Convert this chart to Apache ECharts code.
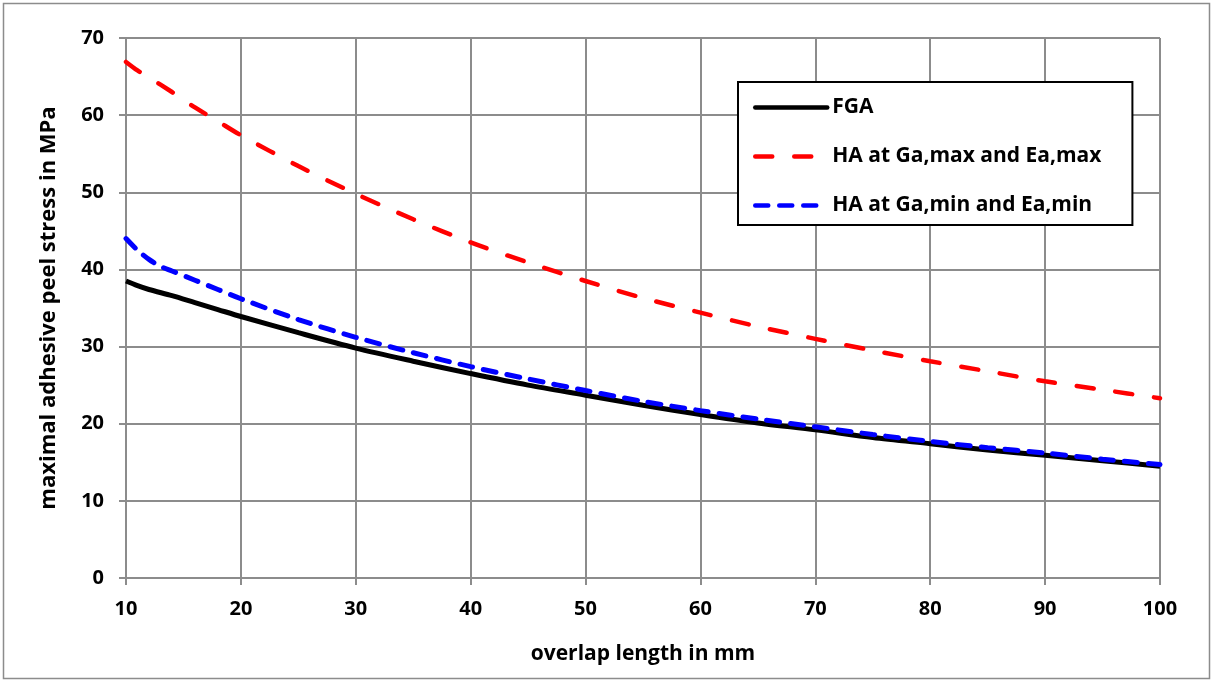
<!DOCTYPE html>
<html><head><meta charset="utf-8">
<script src="https://cdn.jsdelivr.net/npm/echarts@6/dist/echarts.min.js"></script>
<style>html,body{margin:0;padding:0;background:#fff}#c{width:1213px;height:682px}</style>
</head><body><div id="c"></div>
<script>
const xFGA = [10,11,12,14,16,18,20,25,30,35,40,45,50,55,60,65,70,75,80,85,90,95,100];
const yFGA = [38.5,37.9,37.4,36.6,35.7,34.8,33.9,31.8,29.8,28.1,26.5,25.0,23.7,22.4,21.2,20.1,19.2,18.2,17.4,16.6,15.9,15.2,14.5];
const xMax = [10,11,12,14,16,18,20,25,30,35,40,45,50,55,60,65,70,75,80,85,90,95,100];
const yMax = [66.9,65.8,64.9,63.0,61.0,59.2,57.4,53.4,49.8,46.5,43.5,40.9,38.5,36.3,34.4,32.6,31.0,29.5,28.1,26.8,25.5,24.4,23.3];
const xMin = [10,11,12,13,14,16,18,20,25,30,35,40,45,50,55,60,65,70,75,80,85,90,95,100];
const yMin = [44.0,42.5,41.3,40.4,39.8,38.6,37.4,36.2,33.5,31.2,29.2,27.4,25.8,24.3,22.9,21.7,20.6,19.6,18.6,17.7,16.9,16.2,15.4,14.7];
const seriesNames = ['FGA','HA at Ga,max and Ea,max','HA at Ga,min and Ea,min'];
const xTicks = [10,20,30,40,50,60,70,80,90,100];
const yTicks = [0,10,20,30,40,50,60,70];

const pair = (xs, ys) => xs.map((x, i) => [x, ys[i]]);
const FONT = '"Open Sans"';
const chart = echarts.init(document.getElementById('c'), null, {renderer: 'canvas'});
chart.setOption({
  animation: false,
  backgroundColor: '#fff',
  graphic: [{type: 'rect', shape: {x: 3.5, y: 3.5, width: 1206, height: 675}, style: {fill: 'none', stroke: '#8c8c8c', lineWidth: 1.5}, silent: true}],
  grid: {left: 126, right: 53, top: 38, bottom: 104},
  xAxis: {
    type: 'value', min: 10, max: 100, interval: 10,
    name: 'overlap length in mm', nameLocation: 'middle', nameGap: 66,
    nameTextStyle: {fontFamily: FONT, fontWeight: 'bold', fontSize: 21, color: '#000'},
    axisLine: {show: true, lineStyle: {color: '#8c8c8c', width: 2}},
    axisTick: {show: true, length: 7, lineStyle: {color: '#8c8c8c', width: 2}},
    axisLabel: {fontFamily: FONT, fontWeight: 'bold', fontSize: 20, color: '#000', margin: 21},
    splitLine: {show: true, lineStyle: {color: '#8c8c8c', width: 2}}
  },
  yAxis: {
    type: 'value', min: 0, max: 70, interval: 10,
    name: 'maximal adhesive peel stress in MPa', nameLocation: 'middle', nameGap: 66,
    nameTextStyle: {fontFamily: FONT, fontWeight: 'bold', fontSize: 22, color: '#000'},
    axisLine: {show: true, lineStyle: {color: '#8c8c8c', width: 2}},
    axisTick: {show: true, length: 7, lineStyle: {color: '#8c8c8c', width: 2}},
    axisLabel: {fontFamily: FONT, fontWeight: 'bold', fontSize: 20, color: '#000', margin: 22},
    splitLine: {show: true, lineStyle: {color: '#8c8c8c', width: 2}}
  },
  legend: {
    show: true, orient: 'vertical', left: 738, top: 82,
    backgroundColor: '#fff', borderColor: '#000', borderWidth: 2,
    padding: [15, 31, 9, 15], itemWidth: 72, itemHeight: 14, itemGap: 28,
    itemStyle: {opacity: 0},
    lineStyle: {width: 4.5, cap: 'round'},
    textStyle: {fontFamily: FONT, fontWeight: 'bold', fontSize: 21, color: '#000'},
    data: seriesNames
  },
  series: [
    {name: seriesNames[0], type: 'line', data: pair(xFGA, yFGA), smooth: 0.3, showSymbol: false, symbol: 'none',
     lineStyle: {color: '#000', width: 5}, itemStyle: {color: '#000'}, z: 3},
    {name: seriesNames[1], type: 'line', data: pair(xMax, yMax), smooth: 0.3, showSymbol: false, symbol: 'none',
     lineStyle: {color: '#ff0000', width: 4.5, type: [17, 22], cap: 'round'}, itemStyle: {color: '#ff0000'}, z: 4},
    {name: seriesNames[2], type: 'line', data: pair(xMin, yMin), smooth: 0.3, showSymbol: false, symbol: 'none',
     lineStyle: {color: '#0000ff', width: 5, type: [13, 11], cap: 'round'}, itemStyle: {color: '#0000ff'}, z: 5}
  ]
});
</script></body></html>
